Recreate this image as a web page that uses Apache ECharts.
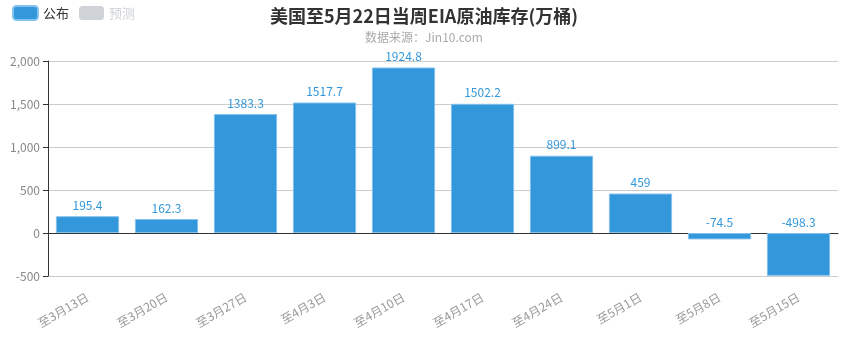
<!DOCTYPE html>
<html><head><meta charset="utf-8">
<script src="https://cdn.jsdelivr.net/npm/echarts@6/dist/echarts.min.js"></script>
<style>html,body{margin:0;padding:0;background:#fff}#c{width:848px;height:342px}</style>
</head><body><div id="c"></div>
<script>
var categories = ['至3月13日','至3月20日','至3月27日','至4月3日','至4月10日','至4月17日','至4月24日','至5月1日','至5月8日','至5月15日'];
var published = [195.4, 162.3, 1383.3, 1517.7, 1924.8, 1502.2, 899.1, 459, -74.5, -498.3];
var forecast = [];
var yTicks = {min: -500, max: 2000, interval: 500};
var font = '"Noto Sans CJK SC", "Noto Sans", sans-serif';
var chart = echarts.init(document.getElementById('c'));
chart.setOption({
  animation: false,
  textStyle: {fontFamily: font},
  title: {
    text: '美国至5月22日当周EIA原油库存(万桶)',
    subtext: '数据来源：Jin10.com',
    left: 'center', top: 2,
    itemGap: 6,
    textStyle: {fontSize: 18, fontWeight: 'bold', color: '#333', fontFamily: font},
    subtextStyle: {fontSize: 12, color: '#aaa', fontFamily: font}
  },
  legend: {
    left: 7, top: 0,
    itemWidth: 25, itemHeight: 14, itemGap: 10,
    data: ['公布', '预测'],
    selected: {'公布': true, '预测': false},
    textStyle: {fontSize: 13, color: '#333', fontFamily: font}
  },
  grid: {left: 48, right: 10, top: 61, bottom: 66, containLabel: false, outerBoundsMode: 'none'},
  xAxis: {
    type: 'category', data: categories,
    axisLine: {lineStyle: {color: '#333'}},
    axisTick: {lineStyle: {color: '#333'}},
    axisLabel: {rotate: 30, color: '#999', fontSize: 12, margin: 20, fontFamily: font}
  },
  yAxis: {
    type: 'value', min: yTicks.min, max: yTicks.max, interval: yTicks.interval,
    axisLine: {show: true, lineStyle: {color: '#333'}},
    axisTick: {show: true, lineStyle: {color: '#333'}},
    axisLabel: {color: '#888', fontSize: 12, fontFamily: font},
    splitLine: {lineStyle: {color: '#ccc'}}
  },
  series: [{
    name: '公布', type: 'bar', data: published, barWidth: '80%', barGap: '-100%',
    itemStyle: {color: '#3398DB', borderColor: '#85c2ee', borderWidth: 1},
    label: {show: true, position: 'top', color: '#3398DB', fontSize: 12, fontFamily: font}
  }, {
    name: '预测', type: 'bar', data: forecast, barWidth: '80%',
    itemStyle: {color: '#ccc'}
  }]
});
</script></body></html>
